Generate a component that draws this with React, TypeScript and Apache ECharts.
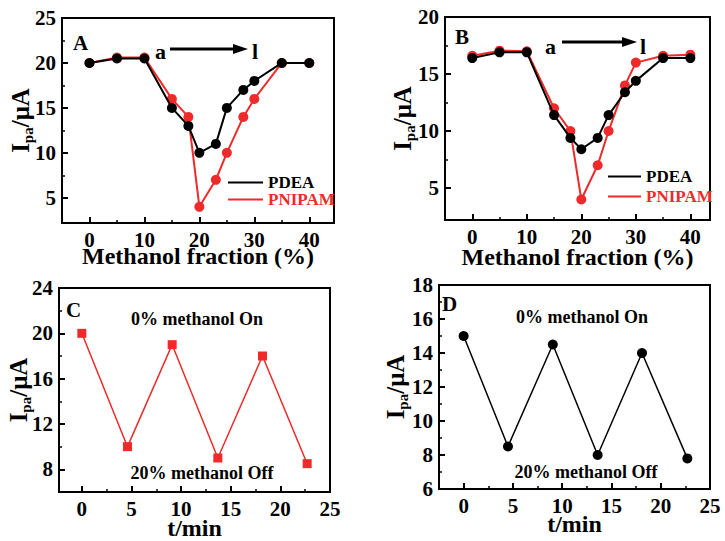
import React, { useEffect, useRef } from "react";
import * as echarts from "echarts";

const FONT = '"Liberation Serif", "Times New Roman", serif';
const RED = "#ee2a2a";
const BLACK = "#000000";

// Panels A and B: methanol fraction (%)
const methanolFraction = [0, 5, 10, 15, 18, 20, 23, 25, 28, 30, 35, 40];
const aPDEA = [20, 20.5, 20.5, 15, 13, 10, 11, 15, 17, 18, 20, 20];
const aPNIPAM = [20, 20.6, 20.6, 16, 14, 4, 7, 10, 14, 16, 20, 20];
const bPDEA = [16.4, 16.9, 16.9, 11.4, 9.4, 8.4, 9.4, 11.4, 13.4, 14.4, 16.4, 16.4];
const bPNIPAM = [16.6, 17.05, 17, 12, 10, 4, 7, 10, 14, 16, 16.6, 16.7];

// Panels C and D: time (min)
const cTime = [0, 4.6, 9.1, 13.7, 18.2, 22.7];
const cCurrent = [20, 10, 19, 9, 18, 8.5];
const dTime = [0, 4.5, 9.05, 13.6, 18.1, 22.7];
const dCurrent = [15, 8.5, 14.5, 8, 14, 7.8];

// Tick values
const abXTicks = [0, 10, 20, 30, 40];
const abXMinor = [5, 15, 25, 35];
const aYTicks = [5, 10, 15, 20, 25];
const aYMinor = [7.5, 12.5, 17.5, 22.5];
const bYTicks = [5, 10, 15, 20];
const bYMinor = [7.5, 12.5, 17.5];
const tXTicks = [0, 5, 10, 15, 20, 25];
const tXMinor = [2.5, 7.5, 12.5, 17.5, 22.5];
const cYTicks = [8, 12, 16, 20, 24];
const cYMinor = [10, 14, 18, 22];
const dYTicks = [6, 8, 10, 12, 14, 16, 18];
const dYMinor = [7, 9, 11, 13, 15, 17];

const yName = "{b|I}{s|pa}{b|/μA}";

const labelStyle = {
  color: BLACK,
  fontFamily: FONT,
  fontWeight: "bold" as const,
  fontSize: 21,
};

function mainAxis(
  dim: "x" | "y",
  gridIndex: number,
  min: number,
  max: number,
  ticks: number[],
  name: string,
  nameGap: number
) {
  const isY = dim === "y";
  return {
    type: "value",
    gridIndex,
    min,
    max,
    position: isY ? "left" : "bottom",
    axisLine: { show: true, onZero: false, lineStyle: { color: BLACK, width: 2 } },
    axisTick: {
      show: true,
      inside: true,
      length: 6,
      customValues: ticks,
      lineStyle: { color: BLACK, width: 2 },
    },
    axisLabel: isY
      ? { show: true, customValues: ticks, margin: 6, ...labelStyle }
      : { show: true, customValues: ticks, margin: 9, lineHeight: 15, ...labelStyle },
    splitLine: { show: false },
    name,
    nameLocation: "middle",
    nameGap,
    nameMoveOverlap: false,
    nameTextStyle: isY
      ? {
          color: BLACK,
          fontFamily: FONT,
          fontWeight: "bold",
          fontSize: 25,
          rich: {
            b: {
              color: BLACK,
              fontFamily: FONT,
              fontWeight: "bold",
              fontSize: 25,
              lineHeight: 30,
            },
            s: {
              color: BLACK,
              fontFamily: FONT,
              fontWeight: "bold",
              fontSize: 15,
              lineHeight: 14,
              verticalAlign: "bottom",
            },
          },
        }
      : { color: BLACK, fontFamily: FONT, fontWeight: "bold", fontSize: 24, lineHeight: 18 },
  };
}

function minorAxis(dim: "x" | "y", gridIndex: number, min: number, max: number, ticks: number[]) {
  return {
    type: "value",
    gridIndex,
    min,
    max,
    position: dim === "y" ? "left" : "bottom",
    axisLine: { show: false, onZero: false },
    axisTick: {
      show: true,
      inside: true,
      length: 3,
      customValues: ticks,
      lineStyle: { color: BLACK, width: 1.5 },
    },
    axisLabel: { show: false },
    splitLine: { show: false },
  };
}

const zip = (xs: number[], ys: number[]) => xs.map((x, i) => [x, ys[i]]);

function txt(x: number, y: number, text: string, size: number, align = "left", color = BLACK) {
  return {
    type: "text",
    x,
    y,
    z: 10,
    style: {
      text,
      fill: color,
      font: `bold ${size}px ${FONT}`,
      align,
      verticalAlign: "middle",
    },
  };
}

function arrow(x1: number, x2: number, y: number) {
  return [
    {
      type: "line",
      z: 10,
      shape: { x1, y1: y, x2: x2 - 12, y2: y },
      style: { stroke: BLACK, lineWidth: 3 },
    },
    {
      type: "polygon",
      z: 10,
      shape: {
        points: [
          [x2 - 15, y - 5],
          [x2, y],
          [x2 - 15, y + 5],
        ],
      },
      style: { fill: BLACK },
    },
  ];
}

const legendText = { fontFamily: FONT, fontWeight: "bold", fontSize: 17 };

export default function App() {
  const ref = useRef<HTMLDivElement>(null);

  useEffect(() => {
    if (!ref.current) return;
    const chart = echarts.init(ref.current, undefined, { renderer: "svg" });

    const gridBase = { show: true, borderColor: BLACK, borderWidth: 2, containLabel: false };

    const option: any = {
      animation: false,
      backgroundColor: "#ffffff",
      grid: [
        { ...gridBase, left: 62, top: 18, width: 272, height: 205 },
        { ...gridBase, left: 445, top: 17, width: 265, height: 203 },
        { ...gridBase, left: 59, top: 288, width: 271, height: 204 },
        { ...gridBase, left: 439, top: 285, width: 271, height: 204 },
      ],
      xAxis: [
        mainAxis("x", 0, -5, 44.5, abXTicks, "Methanol fraction (%)", 24),
        minorAxis("x", 0, -5, 44.5, abXMinor),
        mainAxis("x", 1, -5, 43.6, abXTicks, "Methanol fraction (%)", 28),
        minorAxis("x", 1, -5, 43.6, abXMinor),
        mainAxis("x", 2, -2.3, 25, tXTicks, "t/min", 27),
        minorAxis("x", 2, -2.3, 25, tXMinor),
        mainAxis("x", 3, -2.5, 25, tXTicks, "t/min", 26),
        minorAxis("x", 3, -2.5, 25, tXMinor),
      ],
      yAxis: [
        mainAxis("y", 0, 2.2, 25, aYTicks, yName, 27),
        minorAxis("y", 0, 2.2, 25, aYMinor),
        mainAxis("y", 1, 2.2, 20, bYTicks, yName, 28),
        minorAxis("y", 1, 2.2, 20, bYMinor),
        mainAxis("y", 2, 6, 24, cYTicks, yName, 26),
        minorAxis("y", 2, 6, 24, cYMinor),
        mainAxis("y", 3, 6, 18, dYTicks, yName, 29),
        minorAxis("y", 3, 6, 18, dYMinor),
      ],
      legend: [
        {
          left: 228,
          top: 174,
          orient: "vertical",
          icon: "rect",
          itemWidth: 35,
          itemHeight: 2,
          itemGap: 0,
          padding: 0,
          selectedMode: false,
          textStyle: legendText,
          data: [
            { name: "PDEA", textStyle: { color: BLACK } },
            { name: "PNIPAM", textStyle: { color: RED } },
          ],
        },
        {
          left: 608,
          top: 168,
          orient: "vertical",
          icon: "rect",
          itemWidth: 33,
          itemHeight: 2,
          itemGap: 3,
          padding: 0,
          selectedMode: false,
          textStyle: legendText,
          data: [
            { name: "PDEA", textStyle: { color: BLACK } },
            { name: "PNIPAM", textStyle: { color: RED } },
          ],
        },
      ],
      series: [
        {
          type: "line",
          name: "PNIPAM",
          xAxisIndex: 0,
          yAxisIndex: 0,
          data: zip(methanolFraction, aPNIPAM),
          symbol: "circle",
          symbolSize: 10,
          color: RED,
          lineStyle: { color: RED, width: 2 },
          itemStyle: { color: RED },
          z: 2,
        },
        {
          type: "line",
          name: "PDEA",
          xAxisIndex: 0,
          yAxisIndex: 0,
          data: zip(methanolFraction, aPDEA),
          symbol: "circle",
          symbolSize: 10,
          color: BLACK,
          lineStyle: { color: BLACK, width: 2 },
          itemStyle: { color: BLACK },
          z: 3,
        },
        {
          type: "line",
          name: "PNIPAM",
          xAxisIndex: 2,
          yAxisIndex: 2,
          data: zip(methanolFraction, bPNIPAM),
          symbol: "circle",
          symbolSize: 10,
          color: RED,
          lineStyle: { color: RED, width: 2 },
          itemStyle: { color: RED },
          z: 2,
        },
        {
          type: "line",
          name: "PDEA",
          xAxisIndex: 2,
          yAxisIndex: 2,
          data: zip(methanolFraction, bPDEA),
          symbol: "circle",
          symbolSize: 10,
          color: BLACK,
          lineStyle: { color: BLACK, width: 2 },
          itemStyle: { color: BLACK },
          z: 3,
        },
        {
          type: "line",
          name: "C",
          xAxisIndex: 4,
          yAxisIndex: 4,
          data: zip(cTime, cCurrent),
          symbol: "rect",
          symbolSize: 9,
          color: RED,
          lineStyle: { color: RED, width: 1.5 },
          itemStyle: { color: RED },
        },
        {
          type: "line",
          name: "D",
          xAxisIndex: 6,
          yAxisIndex: 6,
          data: zip(dTime, dCurrent),
          symbol: "circle",
          symbolSize: 10,
          color: BLACK,
          lineStyle: { color: BLACK, width: 1.5 },
          itemStyle: { color: BLACK },
        },
      ],
      graphic: [
        txt(73, 43, "A", 21),
        txt(155, 51, "a", 22),
        ...arrow(170, 248, 49),
        txt(252, 51, "l", 22),
        txt(455, 37, "B", 21),
        txt(545, 46, "a", 22),
        ...arrow(562, 637, 42),
        txt(640, 46, "l", 22),
        txt(66, 310, "C", 21),
        txt(197, 319, "0% methanol On", 18, "center"),
        txt(202, 473, "20% methanol Off", 18, "center"),
        txt(442, 304, "D", 21),
        txt(582, 317, "0% methanol On", 18, "center"),
        txt(586, 472, "20% methanol Off", 18, "center"),
      ],
    };

    chart.setOption(option);
    return () => {
      chart.dispose();
    };
  }, []);

  return (
    <div
      ref={ref}
      style={{ position: "fixed", left: 0, top: 0, width: 725, height: 541, background: "#fff" }}
    />
  );
}
